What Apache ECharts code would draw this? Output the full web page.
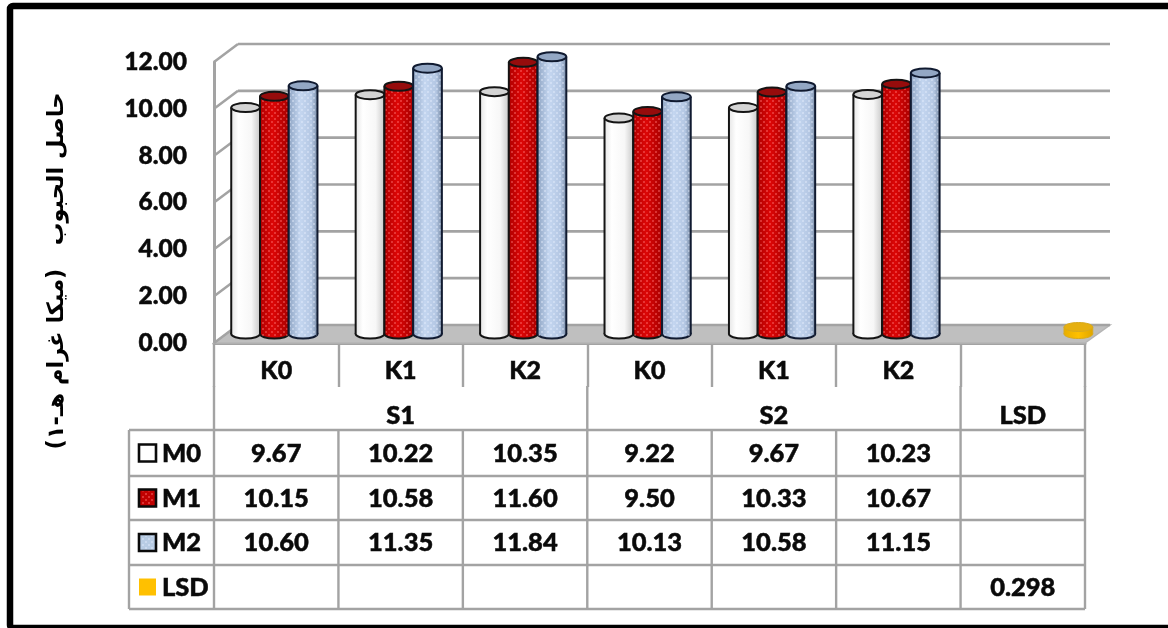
<!DOCTYPE html>
<html>
<head>
<meta charset="utf-8">
<style>html,body{margin:0;padding:0;background:#fff}#chart{width:1168px;height:628px}</style>
<script src="https://cdn.jsdelivr.net/npm/echarts@6/dist/echarts.min.js"></script>
</head>
<body>
<div id="chart"></div>
<script>
// Grain yield by K level within S1 / S2, one cylinder per M level.
const categories = ['K0', 'K1', 'K2', 'K0', 'K1', 'K2', ''];
const groupLabels = ['S1', 'S2', 'LSD'];
const m0Values = [9.67, 10.22, 10.35, 9.22, 9.67, 10.23];
const m1Values = [10.15, 10.58, 11.60, 9.50, 10.33, 10.67];
const m2Values = [10.60, 11.35, 11.84, 10.13, 10.58, 11.15];
const lsdValues = [null, null, null, null, null, null, 0.298];
const seriesNames = ['M0', 'M1', 'M2', 'LSD'];
const yTicks = [0, 2, 4, 6, 8, 10, 12];
const yTitle = '\u202Bحاصل الحبوب   (ميكا غرام هـ-١)\u202C';

const FONT = 'Lato, "Open Sans", sans-serif';
const LINE = '#a3a3a3';
const INK = '#0a0a0a';
const plot = { left: 214, top: 62, width: 871, height: 281 };
const depth = { x: 24, y: 18 };   // wall depth of the pseudo-3D box
const table = { left: 129, rows: [430, 476, 520, 565, 609], header: 387 };
const cellW = plot.width / categories.length;

// Small repeating dot textures laid over the cylinder shading.
function dots(color, size) {
  const c = document.createElement('canvas');
  c.width = c.height = size;
  const g = c.getContext('2d');
  g.fillStyle = color;
  g.fillRect(1, 1, 2, 2);
  g.fillRect(1 + size / 2, 1 + size / 2, 2, 2);
  return c;
}
const redDots = dots('rgba(255,110,110,0.45)', 6);
const blueDots = dots('rgba(232,241,255,0.4)', 6);

function shade(stops) {
  return {
    type: 'linear', x: 0, y: 0, x2: 1, y2: 0,
    colorStops: stops.map(c => ({ offset: c[0], color: c[1] }))
  };
}

const looks = [
  { body: shade([[0, '#e6e6e6'], [0.25, '#ffffff'], [0.7, '#f7f7f7'], [1, '#c9c9c9']]), top: '#d4d4d4', edge: '#141414', width: 2 },
  { body: shade([[0, '#b00000'], [0.45, '#dc0606'], [1, '#a80000']]), top: '#960c0c', edge: '#141414', width: 2, texture: redDots },
  { body: shade([[0, '#8fa5c4'], [0.4, '#c4d6f0'], [0.8, '#b4c7e3'], [1, '#7a8da8']]), top: '#93a7c4', edge: '#101a30', width: 2, texture: blueDots },
  { body: shade([[0, '#e8ae00'], [0.5, '#ffc000'], [1, '#dfa600']]), top: '#e6b010', edge: '#d8aa20', width: 1 }
];

function cylinder(index) {
  const look = looks[index];
  return function (params, api) {
    const band = api.size([1, 0])[0];
    const w = band / 4.33;
    const top = api.coord([api.value(0), api.value(1)]);
    const base = api.coord([api.value(0), 0]);
    const x = top[0] - 2 * w + index * w;
    const cx = x + w / 2, rx = w / 2, ry = 4.5;
    const edge = { stroke: look.edge, lineWidth: look.width };
    const parts = [
      { type: 'ellipse', shape: { cx, cy: base[1], rx, ry }, style: { fill: look.body, ...edge } },
      { type: 'rect', shape: { x, y: top[1], width: w, height: base[1] - top[1] }, style: { fill: look.body } }
    ];
    if (look.texture) {
      const tex = { fill: { image: look.texture, repeat: 'repeat' } };
      parts.push({ type: 'rect', shape: { x: x + 1, y: top[1], width: w - 2, height: base[1] - top[1] + 3 }, style: tex });
    }
    parts.push(
      { type: 'line', shape: { x1: x, y1: top[1], x2: x, y2: base[1] }, style: edge },
      { type: 'line', shape: { x1: x + w, y1: top[1], x2: x + w, y2: base[1] }, style: edge },
      { type: 'ellipse', shape: { cx, cy: top[1], rx, ry }, style: { fill: look.top, ...edge } }
    );
    return { type: 'group', children: parts };
  };
}

// Side-wall diagonals, back-wall lines and the floor of the box.
function walls(params, api) {
  const v = api.value(0);
  const p = api.coord([0, v]);
  const s = params.coordSys;
  const left = s.x, right = s.x + s.width, y = p[1];
  const stroke = { stroke: LINE, lineWidth: 2.6 };
  const parts = [
    { type: 'line', shape: { x1: left, y1: y, x2: left + depth.x, y2: y - depth.y }, style: stroke },
    { type: 'line', shape: { x1: left + depth.x, y1: y - depth.y, x2: right + depth.x + 1, y2: y - depth.y }, style: stroke }
  ];
  if (v === 0) {
    parts.unshift({
      type: 'polygon',
      shape: { points: [[left, y], [left + depth.x, y - depth.y], [right + depth.x + 1, y - depth.y], [right, y]] },
      style: { fill: '#bfbfbf', stroke: '#b5b5b5', lineWidth: 1.5 }
    });
  }
  return { type: 'group', children: parts };
}

const seriesData = [m0Values, m1Values, m2Values, lsdValues];
const cylinderSeries = seriesData.map((vals, i) => ({
  type: 'custom',
  name: seriesNames[i],
  xAxisIndex: 1,
  yAxisIndex: 1,
  z: 5 + i,
  renderItem: cylinder(i),
  encode: { x: 0, y: 1 },
  data: vals.map((v, k) => [k, v]).filter(d => d[1] !== null)
}));

// Data table under the plot, filled from the same value arrays.
const g = [];
function tline(x1, y1, x2, y2) {
  g.push({ type: 'line', z: 3, shape: { x1, y1, x2, y2 }, style: { stroke: LINE, lineWidth: 2.4 } });
}
function ttext(x, y, text, align) {
  g.push({
    type: 'text', z: 4, x, y,
    style: {
      text, font: '900 25.5px ' + FONT, fill: INK, stroke: INK, lineWidth: 0.5,
      align: align || 'center', verticalAlign: 'middle'
    }
  });
}
const bottom = table.rows[table.rows.length - 1];
table.rows.forEach(y => tline(table.left, y, plot.left + plot.width, y));
tline(table.left, table.rows[0], table.left, bottom);
for (let i = 0; i <= categories.length; i++) {
  const x = plot.left + i * cellW;
  const full = i === 0 || i === 3 || i === 6 || i === 7;
  tline(x, full ? table.header - 1 : table.rows[0], x, bottom);
}
ttext(plot.left + 1.5 * cellW, 416, groupLabels[0]);
ttext(plot.left + 4.5 * cellW, 416, groupLabels[1]);
ttext(plot.left + 6.5 * cellW, 416, groupLabels[2]);

const rowCenters = table.rows.slice(0, -1).map((y, i) => (y + table.rows[i + 1]) / 2);
seriesData.forEach((vals, r) => {
  vals.forEach((v, c) => {
    if (v !== null) ttext(plot.left + (c + 0.5) * cellW, rowCenters[r] + 0.5, v.toFixed(r === 3 ? 3 : 2));
  });
  ttext(162, rowCenters[r] + 0.5, seriesNames[r], 'left');
  const sw = { type: 'rect', z: 4, shape: { x: 139, y: rowCenters[r] - 8.5, width: 17, height: 17 } };
  if (r === 3) {
    g.push({ ...sw, style: { fill: '#ffc000' } });
  } else {
    g.push({ ...sw, style: { fill: ['#ffffff', '#c00000', '#b8cce4'][r], stroke: INK, lineWidth: 2.6 } });
    if (r > 0) g.push({ ...sw, z: 5, shape: { x: 141, y: rowCenters[r] - 6.5, width: 13, height: 13 }, style: { fill: { image: r === 1 ? redDots : blueDots, repeat: 'repeat' } } });
  }
});

// Outer frame runs off the right and bottom edges of the page.
g.push({
  type: 'rect', z: 10,
  shape: { x: 10, y: 6, width: 1200, height: 622, r: 3 },
  style: { fill: 'none', stroke: '#000', lineWidth: 6.5 }
});
g.push({
  type: 'text', z: 4, x: 57, y: 271, rotation: Math.PI / 2,
  style: { text: yTitle, font: 'bold 22.5px "DejaVu Sans"', fill: '#000', align: 'center', verticalAlign: 'middle' }
});

const labelInk = { color: INK, fontFamily: FONT, fontWeight: 900, textBorderColor: INK, textBorderWidth: 0.5 };
const chart = echarts.init(document.getElementById('chart'), null, { renderer: 'canvas' });
chart.setOption({
  animation: false,
  backgroundColor: '#fff',
  grid: [
    { left: plot.left, top: plot.top, width: plot.width, height: plot.height },
    { left: plot.left + depth.x / 2 + 0.5, top: plot.top - depth.y / 2, width: plot.width, height: plot.height }
  ],
  xAxis: [
    {
      type: 'category', gridIndex: 0, data: categories,
      axisLine: { show: true, lineStyle: { color: LINE, width: 3 } },
      axisTick: { show: true, length: 44, lineStyle: { color: LINE, width: 2.4 } },
      axisLabel: { margin: 15, fontSize: 25, ...labelInk }
    },
    { type: 'category', gridIndex: 1, data: categories, show: false }
  ],
  yAxis: [
    {
      type: 'value', gridIndex: 0, min: yTicks[0], max: yTicks[yTicks.length - 1], interval: 2,
      axisLine: { show: true, lineStyle: { color: LINE, width: 3 } },
      axisTick: { show: false },
      splitLine: { show: false },
      axisLabel: { margin: 27, fontSize: 24.5, formatter: v => v.toFixed(2), ...labelInk }
    },
    { type: 'value', gridIndex: 1, min: yTicks[0], max: yTicks[yTicks.length - 1], interval: 2, show: false }
  ],
  series: [
    {
      type: 'custom', xAxisIndex: 0, yAxisIndex: 0, z: 1,
      renderItem: walls,
      encode: { y: 0 },
      data: yTicks.slice().reverse().map(v => [v]),
      silent: true
    },
    ...cylinderSeries
  ],
  graphic: { elements: g }
});
</script>
</body>
</html>
